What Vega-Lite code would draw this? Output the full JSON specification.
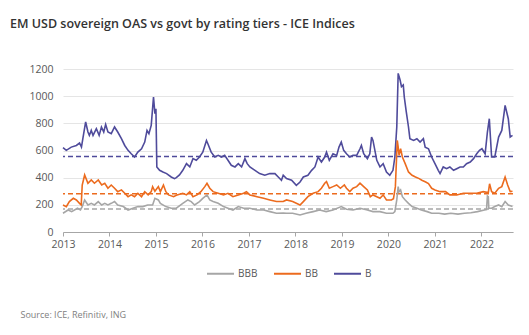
{
  "$schema": "https://vega.github.io/schema/vega-lite/v6.json",
  "width": 450,
  "height": 163,
  "autosize": {"type": "none"},
  "padding": {"left": 63, "top": 69, "right": 16, "bottom": 103},
  "background": "white",
  "title": {
    "text": "EM USD sovereign OAS vs govt by rating tiers - ICE Indices",
    "anchor": "start",
    "frame": "group",
    "dx": -53,
    "offset": 34,
    "font": "Open Sans",
    "fontSize": 12.5,
    "fontWeight": 600,
    "color": "#333333"
  },
  "datasets": {
    "avgs": [
      {"s": "BBB", "avg": 169},
      {"s": "BB", "avg": 282},
      {"s": "B", "avg": 555}
    ],
    "series": [
      {"d": "2013-01-01", "s": "B", "v": 621},
      {"d": "2013-01-27", "s": "B", "v": 601},
      {"d": "2013-03-07", "s": "B", "v": 625},
      {"d": "2013-04-16", "s": "B", "v": 637},
      {"d": "2013-05-11", "s": "B", "v": 655},
      {"d": "2013-05-26", "s": "B", "v": 625},
      {"d": "2013-06-06", "s": "B", "v": 687},
      {"d": "2013-06-28", "s": "B", "v": 810},
      {"d": "2013-07-16", "s": "B", "v": 736},
      {"d": "2013-07-27", "s": "B", "v": 711},
      {"d": "2013-08-11", "s": "B", "v": 748},
      {"d": "2013-08-25", "s": "B", "v": 711},
      {"d": "2013-09-20", "s": "B", "v": 760},
      {"d": "2013-10-12", "s": "B", "v": 711},
      {"d": "2013-10-30", "s": "B", "v": 773},
      {"d": "2013-11-17", "s": "B", "v": 736},
      {"d": "2013-12-02", "s": "B", "v": 792},
      {"d": "2013-12-20", "s": "B", "v": 736},
      {"d": "2014-01-15", "s": "B", "v": 724},
      {"d": "2014-02-10", "s": "B", "v": 773},
      {"d": "2014-03-07", "s": "B", "v": 736},
      {"d": "2014-04-05", "s": "B", "v": 687},
      {"d": "2014-05-01", "s": "B", "v": 637},
      {"d": "2014-05-27", "s": "B", "v": 601},
      {"d": "2014-06-21", "s": "B", "v": 576},
      {"d": "2014-07-17", "s": "B", "v": 552},
      {"d": "2014-08-12", "s": "B", "v": 588},
      {"d": "2014-09-10", "s": "B", "v": 613},
      {"d": "2014-10-05", "s": "B", "v": 662},
      {"d": "2014-10-23", "s": "B", "v": 748},
      {"d": "2014-11-07", "s": "B", "v": 724},
      {"d": "2014-11-25", "s": "B", "v": 785},
      {"d": "2014-12-13", "s": "B", "v": 994},
      {"d": "2014-12-24", "s": "B", "v": 871},
      {"d": "2015-01-01", "s": "B", "v": 908},
      {"d": "2015-01-08", "s": "B", "v": 479},
      {"d": "2015-01-30", "s": "B", "v": 454},
      {"d": "2015-02-25", "s": "B", "v": 442},
      {"d": "2015-03-26", "s": "B", "v": 430},
      {"d": "2015-05-01", "s": "B", "v": 405},
      {"d": "2015-05-27", "s": "B", "v": 393},
      {"d": "2015-06-10", "s": "B", "v": 400},
      {"d": "2015-07-05", "s": "B", "v": 420},
      {"d": "2015-07-31", "s": "B", "v": 454},
      {"d": "2015-08-29", "s": "B", "v": 503},
      {"d": "2015-09-24", "s": "B", "v": 479},
      {"d": "2015-10-19", "s": "B", "v": 540},
      {"d": "2015-11-14", "s": "B", "v": 528},
      {"d": "2015-12-09", "s": "B", "v": 552},
      {"d": "2016-01-04", "s": "B", "v": 588},
      {"d": "2016-02-02", "s": "B", "v": 674},
      {"d": "2016-02-13", "s": "B", "v": 650},
      {"d": "2016-03-10", "s": "B", "v": 588},
      {"d": "2016-04-08", "s": "B", "v": 552},
      {"d": "2016-05-04", "s": "B", "v": 564},
      {"d": "2016-05-30", "s": "B", "v": 552},
      {"d": "2016-06-24", "s": "B", "v": 564},
      {"d": "2016-07-20", "s": "B", "v": 528},
      {"d": "2016-08-15", "s": "B", "v": 491},
      {"d": "2016-09-13", "s": "B", "v": 479},
      {"d": "2016-10-09", "s": "B", "v": 503},
      {"d": "2016-11-04", "s": "B", "v": 479},
      {"d": "2016-11-30", "s": "B", "v": 540},
      {"d": "2016-12-18", "s": "B", "v": 503},
      {"d": "2017-01-08", "s": "B", "v": 479},
      {"d": "2017-02-17", "s": "B", "v": 454},
      {"d": "2017-03-26", "s": "B", "v": 430},
      {"d": "2017-05-05", "s": "B", "v": 418},
      {"d": "2017-06-14", "s": "B", "v": 430},
      {"d": "2017-07-24", "s": "B", "v": 430},
      {"d": "2017-08-19", "s": "B", "v": 405},
      {"d": "2017-09-13", "s": "B", "v": 381},
      {"d": "2017-09-27", "s": "B", "v": 418},
      {"d": "2017-10-23", "s": "B", "v": 393},
      {"d": "2017-12-02", "s": "B", "v": 381},
      {"d": "2018-01-08", "s": "B", "v": 344},
      {"d": "2018-02-06", "s": "B", "v": 368},
      {"d": "2018-03-04", "s": "B", "v": 405},
      {"d": "2018-04-09", "s": "B", "v": 418},
      {"d": "2018-05-08", "s": "B", "v": 454},
      {"d": "2018-06-03", "s": "B", "v": 479},
      {"d": "2018-06-28", "s": "B", "v": 552},
      {"d": "2018-07-24", "s": "B", "v": 515},
      {"d": "2018-08-19", "s": "B", "v": 552},
      {"d": "2018-09-02", "s": "B", "v": 588},
      {"d": "2018-09-24", "s": "B", "v": 528},
      {"d": "2018-10-23", "s": "B", "v": 576},
      {"d": "2018-11-21", "s": "B", "v": 564},
      {"d": "2018-12-09", "s": "B", "v": 625},
      {"d": "2018-12-27", "s": "B", "v": 662},
      {"d": "2019-01-15", "s": "B", "v": 601},
      {"d": "2019-02-06", "s": "B", "v": 576},
      {"d": "2019-03-04", "s": "B", "v": 552},
      {"d": "2019-03-29", "s": "B", "v": 564},
      {"d": "2019-04-27", "s": "B", "v": 564},
      {"d": "2019-05-23", "s": "B", "v": 613},
      {"d": "2019-06-03", "s": "B", "v": 637},
      {"d": "2019-06-21", "s": "B", "v": 576},
      {"d": "2019-07-20", "s": "B", "v": 540},
      {"d": "2019-08-08", "s": "B", "v": 576},
      {"d": "2019-08-22", "s": "B", "v": 699},
      {"d": "2019-09-02", "s": "B", "v": 674},
      {"d": "2019-10-02", "s": "B", "v": 528},
      {"d": "2019-10-27", "s": "B", "v": 479},
      {"d": "2019-11-21", "s": "B", "v": 503},
      {"d": "2019-12-17", "s": "B", "v": 442},
      {"d": "2020-01-12", "s": "B", "v": 418},
      {"d": "2020-02-06", "s": "B", "v": 454},
      {"d": "2020-02-21", "s": "B", "v": 552},
      {"d": "2020-03-07", "s": "B", "v": 773},
      {"d": "2020-03-18", "s": "B", "v": 1168},
      {"d": "2020-04-02", "s": "B", "v": 1119},
      {"d": "2020-04-13", "s": "B", "v": 1070},
      {"d": "2020-04-27", "s": "B", "v": 1082},
      {"d": "2020-05-05", "s": "B", "v": 994},
      {"d": "2020-05-19", "s": "B", "v": 896},
      {"d": "2020-06-07", "s": "B", "v": 773},
      {"d": "2020-06-18", "s": "B", "v": 687},
      {"d": "2020-07-17", "s": "B", "v": 674},
      {"d": "2020-08-12", "s": "B", "v": 687},
      {"d": "2020-09-06", "s": "B", "v": 662},
      {"d": "2020-10-02", "s": "B", "v": 687},
      {"d": "2020-10-16", "s": "B", "v": 625},
      {"d": "2020-11-11", "s": "B", "v": 613},
      {"d": "2020-12-06", "s": "B", "v": 552},
      {"d": "2021-01-01", "s": "B", "v": 503},
      {"d": "2021-01-27", "s": "B", "v": 454},
      {"d": "2021-02-10", "s": "B", "v": 430},
      {"d": "2021-03-07", "s": "B", "v": 479},
      {"d": "2021-04-02", "s": "B", "v": 466},
      {"d": "2021-04-28", "s": "B", "v": 479},
      {"d": "2021-05-27", "s": "B", "v": 454},
      {"d": "2021-06-21", "s": "B", "v": 466},
      {"d": "2021-07-17", "s": "B", "v": 479},
      {"d": "2021-08-12", "s": "B", "v": 479},
      {"d": "2021-09-06", "s": "B", "v": 503},
      {"d": "2021-10-05", "s": "B", "v": 515},
      {"d": "2021-10-31", "s": "B", "v": 540},
      {"d": "2021-11-25", "s": "B", "v": 576},
      {"d": "2021-12-17", "s": "B", "v": 601},
      {"d": "2022-01-05", "s": "B", "v": 613},
      {"d": "2022-01-30", "s": "B", "v": 576},
      {"d": "2022-02-17", "s": "B", "v": 736},
      {"d": "2022-03-04", "s": "B", "v": 834},
      {"d": "2022-03-22", "s": "B", "v": 552},
      {"d": "2022-04-16", "s": "B", "v": 552},
      {"d": "2022-05-16", "s": "B", "v": 699},
      {"d": "2022-06-10", "s": "B", "v": 748},
      {"d": "2022-07-06", "s": "B", "v": 932},
      {"d": "2022-07-31", "s": "B", "v": 834},
      {"d": "2022-08-15", "s": "B", "v": 699},
      {"d": "2022-09-02", "s": "B", "v": 711},

      {"d": "2013-01-01", "s": "BB", "v": 199},
      {"d": "2013-01-27", "s": "BB", "v": 187},
      {"d": "2013-02-20", "s": "BB", "v": 224},
      {"d": "2013-03-23", "s": "BB", "v": 248},
      {"d": "2013-04-16", "s": "BB", "v": 236},
      {"d": "2013-05-11", "s": "BB", "v": 211},
      {"d": "2013-05-24", "s": "BB", "v": 199},
      {"d": "2013-06-01", "s": "BB", "v": 346},
      {"d": "2013-06-20", "s": "BB", "v": 420},
      {"d": "2013-07-16", "s": "BB", "v": 359},
      {"d": "2013-08-11", "s": "BB", "v": 383},
      {"d": "2013-09-05", "s": "BB", "v": 359},
      {"d": "2013-10-05", "s": "BB", "v": 383},
      {"d": "2013-11-01", "s": "BB", "v": 346},
      {"d": "2013-11-25", "s": "BB", "v": 359},
      {"d": "2013-12-20", "s": "BB", "v": 322},
      {"d": "2014-01-15", "s": "BB", "v": 346},
      {"d": "2014-02-10", "s": "BB", "v": 322},
      {"d": "2014-03-07", "s": "BB", "v": 297},
      {"d": "2014-04-05", "s": "BB", "v": 310},
      {"d": "2014-05-01", "s": "BB", "v": 285},
      {"d": "2014-05-27", "s": "BB", "v": 260},
      {"d": "2014-06-21", "s": "BB", "v": 273},
      {"d": "2014-07-17", "s": "BB", "v": 260},
      {"d": "2014-08-12", "s": "BB", "v": 285},
      {"d": "2014-09-10", "s": "BB", "v": 260},
      {"d": "2014-10-05", "s": "BB", "v": 297},
      {"d": "2014-11-01", "s": "BB", "v": 273},
      {"d": "2014-11-25", "s": "BB", "v": 297},
      {"d": "2014-12-06", "s": "BB", "v": 334},
      {"d": "2014-12-24", "s": "BB", "v": 300},
      {"d": "2015-01-20", "s": "BB", "v": 334},
      {"d": "2015-02-05", "s": "BB", "v": 297},
      {"d": "2015-03-01", "s": "BB", "v": 346},
      {"d": "2015-03-20", "s": "BB", "v": 297},
      {"d": "2015-04-10", "s": "BB", "v": 273},
      {"d": "2015-05-20", "s": "BB", "v": 260},
      {"d": "2015-06-10", "s": "BB", "v": 270},
      {"d": "2015-07-31", "s": "BB", "v": 285},
      {"d": "2015-08-29", "s": "BB", "v": 273},
      {"d": "2015-09-24", "s": "BB", "v": 297},
      {"d": "2015-10-19", "s": "BB", "v": 260},
      {"d": "2015-11-20", "s": "BB", "v": 273},
      {"d": "2015-12-20", "s": "BB", "v": 297},
      {"d": "2016-01-20", "s": "BB", "v": 334},
      {"d": "2016-02-06", "s": "BB", "v": 359},
      {"d": "2016-02-28", "s": "BB", "v": 322},
      {"d": "2016-03-25", "s": "BB", "v": 297},
      {"d": "2016-05-04", "s": "BB", "v": 285},
      {"d": "2016-06-15", "s": "BB", "v": 273},
      {"d": "2016-07-20", "s": "BB", "v": 285},
      {"d": "2016-08-28", "s": "BB", "v": 260},
      {"d": "2016-10-09", "s": "BB", "v": 273},
      {"d": "2016-11-20", "s": "BB", "v": 285},
      {"d": "2016-12-12", "s": "BB", "v": 297},
      {"d": "2017-01-08", "s": "BB", "v": 273},
      {"d": "2017-03-05", "s": "BB", "v": 260},
      {"d": "2017-04-26", "s": "BB", "v": 248},
      {"d": "2017-06-14", "s": "BB", "v": 236},
      {"d": "2017-08-05", "s": "BB", "v": 224},
      {"d": "2017-09-27", "s": "BB", "v": 224},
      {"d": "2017-10-23", "s": "BB", "v": 236},
      {"d": "2017-12-10", "s": "BB", "v": 224},
      {"d": "2018-02-06", "s": "BB", "v": 199},
      {"d": "2018-03-04", "s": "BB", "v": 224},
      {"d": "2018-04-09", "s": "BB", "v": 260},
      {"d": "2018-05-20", "s": "BB", "v": 285},
      {"d": "2018-06-28", "s": "BB", "v": 297},
      {"d": "2018-07-24", "s": "BB", "v": 322},
      {"d": "2018-08-19", "s": "BB", "v": 359},
      {"d": "2018-09-02", "s": "BB", "v": 371},
      {"d": "2018-09-24", "s": "BB", "v": 322},
      {"d": "2018-10-23", "s": "BB", "v": 334},
      {"d": "2018-11-21", "s": "BB", "v": 346},
      {"d": "2018-12-20", "s": "BB", "v": 322},
      {"d": "2019-01-20", "s": "BB", "v": 346},
      {"d": "2019-02-06", "s": "BB", "v": 322},
      {"d": "2019-03-04", "s": "BB", "v": 297},
      {"d": "2019-03-29", "s": "BB", "v": 322},
      {"d": "2019-04-27", "s": "BB", "v": 334},
      {"d": "2019-05-23", "s": "BB", "v": 359},
      {"d": "2019-06-21", "s": "BB", "v": 334},
      {"d": "2019-07-20", "s": "BB", "v": 310},
      {"d": "2019-08-12", "s": "BB", "v": 260},
      {"d": "2019-09-02", "s": "BB", "v": 273},
      {"d": "2019-10-02", "s": "BB", "v": 260},
      {"d": "2019-10-27", "s": "BB", "v": 248},
      {"d": "2019-11-21", "s": "BB", "v": 273},
      {"d": "2019-12-17", "s": "BB", "v": 236},
      {"d": "2020-01-25", "s": "BB", "v": 236},
      {"d": "2020-02-10", "s": "BB", "v": 245},
      {"d": "2020-02-25", "s": "BB", "v": 334},
      {"d": "2020-03-11", "s": "BB", "v": 674},
      {"d": "2020-03-18", "s": "BB", "v": 625},
      {"d": "2020-03-25", "s": "BB", "v": 564},
      {"d": "2020-04-06", "s": "BB", "v": 613},
      {"d": "2020-04-20", "s": "BB", "v": 552},
      {"d": "2020-05-12", "s": "BB", "v": 503},
      {"d": "2020-06-07", "s": "BB", "v": 442},
      {"d": "2020-07-05", "s": "BB", "v": 418},
      {"d": "2020-08-01", "s": "BB", "v": 405},
      {"d": "2020-08-30", "s": "BB", "v": 393},
      {"d": "2020-09-20", "s": "BB", "v": 381},
      {"d": "2020-10-20", "s": "BB", "v": 368},
      {"d": "2020-11-11", "s": "BB", "v": 356},
      {"d": "2020-12-06", "s": "BB", "v": 322},
      {"d": "2021-01-01", "s": "BB", "v": 310},
      {"d": "2021-02-10", "s": "BB", "v": 297},
      {"d": "2021-03-25", "s": "BB", "v": 297},
      {"d": "2021-04-28", "s": "BB", "v": 273},
      {"d": "2021-06-21", "s": "BB", "v": 273},
      {"d": "2021-08-12", "s": "BB", "v": 285},
      {"d": "2021-10-05", "s": "BB", "v": 285},
      {"d": "2021-11-25", "s": "BB", "v": 285},
      {"d": "2022-01-15", "s": "BB", "v": 297},
      {"d": "2022-02-24", "s": "BB", "v": 290},
      {"d": "2022-03-06", "s": "BB", "v": 355},
      {"d": "2022-03-22", "s": "BB", "v": 297},
      {"d": "2022-04-16", "s": "BB", "v": 285},
      {"d": "2022-05-16", "s": "BB", "v": 322},
      {"d": "2022-06-10", "s": "BB", "v": 334},
      {"d": "2022-07-06", "s": "BB", "v": 405},
      {"d": "2022-07-26", "s": "BB", "v": 346},
      {"d": "2022-08-15", "s": "BB", "v": 297},
      {"d": "2022-09-02", "s": "BB", "v": 300},

      {"d": "2013-01-01", "s": "BBB", "v": 138},
      {"d": "2013-02-10", "s": "BBB", "v": 162},
      {"d": "2013-03-10", "s": "BBB", "v": 150},
      {"d": "2013-04-25", "s": "BBB", "v": 175},
      {"d": "2013-05-18", "s": "BBB", "v": 162},
      {"d": "2013-06-01", "s": "BBB", "v": 187},
      {"d": "2013-06-20", "s": "BBB", "v": 236},
      {"d": "2013-07-16", "s": "BBB", "v": 199},
      {"d": "2013-08-11", "s": "BBB", "v": 211},
      {"d": "2013-09-05", "s": "BBB", "v": 199},
      {"d": "2013-10-05", "s": "BBB", "v": 224},
      {"d": "2013-11-01", "s": "BBB", "v": 199},
      {"d": "2013-11-25", "s": "BBB", "v": 211},
      {"d": "2013-12-20", "s": "BBB", "v": 199},
      {"d": "2014-01-15", "s": "BBB", "v": 211},
      {"d": "2014-02-10", "s": "BBB", "v": 224},
      {"d": "2014-03-07", "s": "BBB", "v": 199},
      {"d": "2014-04-20", "s": "BBB", "v": 187},
      {"d": "2014-05-27", "s": "BBB", "v": 162},
      {"d": "2014-07-05", "s": "BBB", "v": 175},
      {"d": "2014-08-12", "s": "BBB", "v": 187},
      {"d": "2014-09-20", "s": "BBB", "v": 187},
      {"d": "2014-10-28", "s": "BBB", "v": 199},
      {"d": "2014-12-06", "s": "BBB", "v": 199},
      {"d": "2014-12-24", "s": "BBB", "v": 248},
      {"d": "2015-01-20", "s": "BBB", "v": 236},
      {"d": "2015-02-05", "s": "BBB", "v": 211},
      {"d": "2015-03-20", "s": "BBB", "v": 187},
      {"d": "2015-05-01", "s": "BBB", "v": 175},
      {"d": "2015-06-10", "s": "BBB", "v": 175},
      {"d": "2015-07-31", "s": "BBB", "v": 211},
      {"d": "2015-09-09", "s": "BBB", "v": 236},
      {"d": "2015-10-05", "s": "BBB", "v": 224},
      {"d": "2015-11-01", "s": "BBB", "v": 199},
      {"d": "2015-12-09", "s": "BBB", "v": 224},
      {"d": "2016-01-04", "s": "BBB", "v": 248},
      {"d": "2016-02-06", "s": "BBB", "v": 273},
      {"d": "2016-02-28", "s": "BBB", "v": 236},
      {"d": "2016-03-25", "s": "BBB", "v": 224},
      {"d": "2016-05-04", "s": "BBB", "v": 211},
      {"d": "2016-06-15", "s": "BBB", "v": 187},
      {"d": "2016-07-20", "s": "BBB", "v": 175},
      {"d": "2016-08-28", "s": "BBB", "v": 162},
      {"d": "2016-10-09", "s": "BBB", "v": 187},
      {"d": "2016-11-20", "s": "BBB", "v": 175},
      {"d": "2017-01-08", "s": "BBB", "v": 175},
      {"d": "2017-03-05", "s": "BBB", "v": 162},
      {"d": "2017-04-26", "s": "BBB", "v": 162},
      {"d": "2017-06-14", "s": "BBB", "v": 150},
      {"d": "2017-08-05", "s": "BBB", "v": 138},
      {"d": "2017-09-27", "s": "BBB", "v": 140},
      {"d": "2017-10-23", "s": "BBB", "v": 138},
      {"d": "2017-12-10", "s": "BBB", "v": 138},
      {"d": "2018-02-06", "s": "BBB", "v": 125},
      {"d": "2018-03-25", "s": "BBB", "v": 138},
      {"d": "2018-05-20", "s": "BBB", "v": 150},
      {"d": "2018-07-10", "s": "BBB", "v": 162},
      {"d": "2018-08-30", "s": "BBB", "v": 150},
      {"d": "2018-10-23", "s": "BBB", "v": 162},
      {"d": "2018-12-27", "s": "BBB", "v": 187},
      {"d": "2019-02-06", "s": "BBB", "v": 167},
      {"d": "2019-03-29", "s": "BBB", "v": 162},
      {"d": "2019-05-23", "s": "BBB", "v": 175},
      {"d": "2019-07-20", "s": "BBB", "v": 162},
      {"d": "2019-09-02", "s": "BBB", "v": 150},
      {"d": "2019-10-27", "s": "BBB", "v": 150},
      {"d": "2019-12-17", "s": "BBB", "v": 138},
      {"d": "2020-02-06", "s": "BBB", "v": 138},
      {"d": "2020-02-21", "s": "BBB", "v": 150},
      {"d": "2020-03-07", "s": "BBB", "v": 236},
      {"d": "2020-03-18", "s": "BBB", "v": 334},
      {"d": "2020-03-25", "s": "BBB", "v": 297},
      {"d": "2020-04-06", "s": "BBB", "v": 310},
      {"d": "2020-04-20", "s": "BBB", "v": 260},
      {"d": "2020-05-12", "s": "BBB", "v": 236},
      {"d": "2020-06-07", "s": "BBB", "v": 211},
      {"d": "2020-07-05", "s": "BBB", "v": 187},
      {"d": "2020-08-12", "s": "BBB", "v": 175},
      {"d": "2020-09-16", "s": "BBB", "v": 162},
      {"d": "2020-11-01", "s": "BBB", "v": 150},
      {"d": "2020-12-06", "s": "BBB", "v": 138},
      {"d": "2021-02-01", "s": "BBB", "v": 138},
      {"d": "2021-03-18", "s": "BBB", "v": 132},
      {"d": "2021-05-05", "s": "BBB", "v": 138},
      {"d": "2021-07-01", "s": "BBB", "v": 132},
      {"d": "2021-08-20", "s": "BBB", "v": 138},
      {"d": "2021-10-10", "s": "BBB", "v": 142},
      {"d": "2021-12-01", "s": "BBB", "v": 150},
      {"d": "2022-01-25", "s": "BBB", "v": 162},
      {"d": "2022-02-10", "s": "BBB", "v": 165},
      {"d": "2022-02-17", "s": "BBB", "v": 265},
      {"d": "2022-02-24", "s": "BBB", "v": 260},
      {"d": "2022-02-28", "s": "BBB", "v": 175},
      {"d": "2022-03-22", "s": "BBB", "v": 175},
      {"d": "2022-04-16", "s": "BBB", "v": 187},
      {"d": "2022-05-16", "s": "BBB", "v": 199},
      {"d": "2022-06-10", "s": "BBB", "v": 187},
      {"d": "2022-07-06", "s": "BBB", "v": 224},
      {"d": "2022-07-31", "s": "BBB", "v": 199},
      {"d": "2022-09-02", "s": "BBB", "v": 187}
    ]
  },
  "layer": [
    {
      "data": {"name": "avgs"},
      "mark": {"type": "rule", "strokeDash": [5, 3], "strokeWidth": 1.5},
      "encoding": {
        "y": {
          "field": "avg",
          "type": "quantitative",
          "scale": {"domain": [0, 1200]},
          "axis": {
            "values": [0, 200, 400, 600, 800, 1000, 1200],
            "format": "d",
            "labelOverlap": false,
            "domain": false,
            "ticks": false,
            "grid": true,
            "gridColor": "#e5e5e5",
            "labelFont": "Open Sans",
            "labelFontSize": 10.5,
            "labelColor": "#595959",
            "labelPadding": 10,
            "title": null
          }
        },
        "stroke": {
          "field": "s",
          "type": "nominal",
          "scale": {"domain": ["BBB", "BB", "B"], "range": ["#a6a6a6", "#ec6b1e", "#4f4b9b"]},
          "legend": null
        }
      }
    },
    {
      "data": {"name": "series"},
      "mark": {"type": "line", "strokeWidth": 1.6, "interpolate": "linear"},
      "encoding": {
        "x": {
          "field": "d",
          "type": "temporal",
          "scale": {"domain": ["2013-01-01", "2022-09-06"], "nice": false},
          "axis": {
            "format": "%Y",
            "tickCount": {"interval": "year", "step": 1},
            "grid": false,
            "domainColor": "#a6a6a6",
            "tickColor": "#a6a6a6",
            "tickSize": 4,
            "labelFont": "Open Sans",
            "labelFontSize": 10.5,
            "labelColor": "#595959",
            "labelPadding": 3,
            "labelFlush": false,
            "title": "Source: ICE, Refinitiv, ING",
            "titleFont": "Open Sans",
            "titleFontSize": 9,
            "titleFontWeight": "normal",
            "titleColor": "#808080",
            "titleAnchor": "start",
            "titleAlign": "left",
            "titleBaseline": "middle",
            "titleX": -43,
            "titleY": 82
          }
        },
        "y": {
          "field": "v",
          "type": "quantitative",
          "scale": {"domain": [0, 1200]},
          "axis": {
            "values": [0, 200, 400, 600, 800, 1000, 1200],
            "format": "d",
            "labelOverlap": false,
            "domain": false,
            "ticks": false,
            "grid": true,
            "gridColor": "#e5e5e5",
            "labelFont": "Open Sans",
            "labelFontSize": 10.5,
            "labelColor": "#595959",
            "labelPadding": 10,
            "title": null
          }
        },
        "color": {
          "field": "s",
          "type": "nominal",
          "sort": ["BBB", "BB", "B"],
          "scale": {"domain": ["BBB", "BB", "B"], "range": ["#a6a6a6", "#ec6b1e", "#4f4b9b"]},
          "legend": {
            "orient": "none",
            "legendX": 143,
            "legendY": 190,
            "direction": "horizontal",
            "title": null,
            "symbolType": "stroke",
            "symbolSize": 729,
            "symbolStrokeWidth": 2,
            "labelFont": "Open Sans",
            "labelFontSize": 10,
            "labelColor": "#595959",
            "labelOffset": 3,
            "columnPadding": 12
          }
        }
      }
    }
  ],
  "resolve": {"scale": {"stroke": "independent"}},
  "config": {
    "view": {"stroke": null}
  }
}
